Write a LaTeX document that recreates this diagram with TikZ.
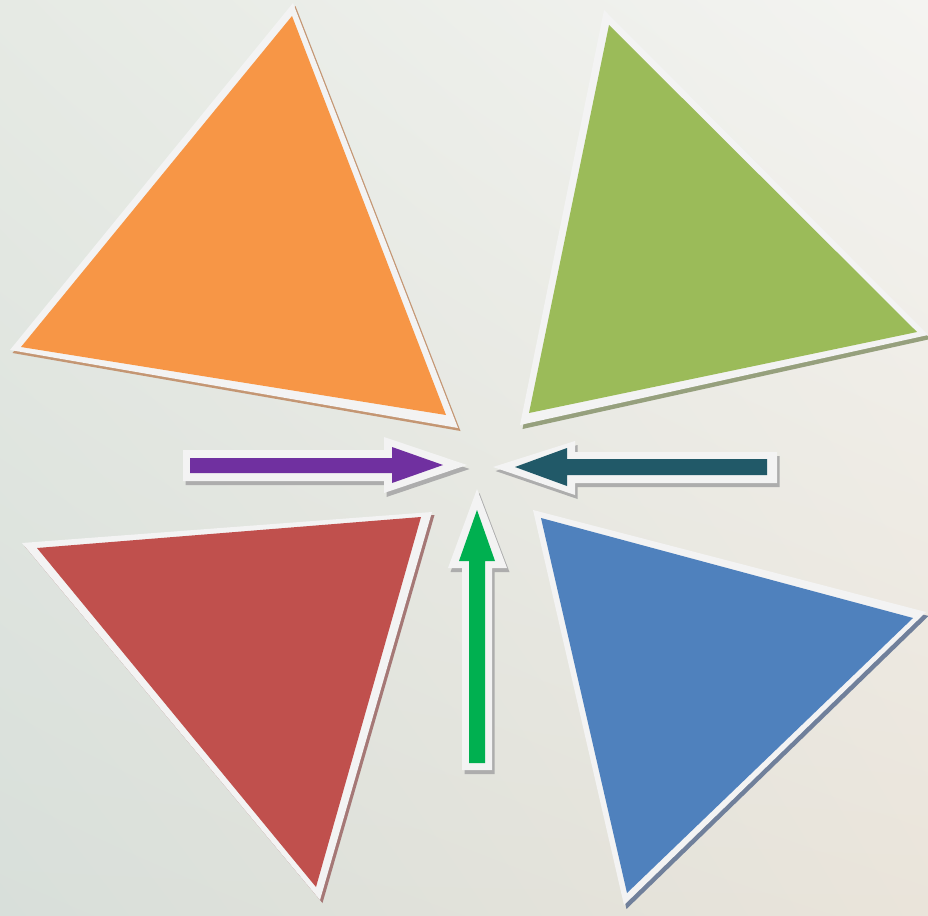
\documentclass[tikz,border=0pt]{standalone}
\usepackage{tikz}
\usetikzlibrary{positioning,shadings}

\definecolor{triorange}{HTML}{F79646}
\definecolor{trigreen}{HTML}{9BBB59}
\definecolor{trired}{HTML}{C0504D}
\definecolor{triblue}{HTML}{4F81BD}
\definecolor{arrpurple}{HTML}{7030A0}
\definecolor{arrteal}{HTML}{215968}
\definecolor{arrgreen}{HTML}{00B050}
\definecolor{rim}{HTML}{F3F3F3}
\definecolor{orangeshadow}{HTML}{C49673}
\definecolor{greenshadow}{HTML}{96A07D}
\definecolor{redshadow}{HTML}{A57876}
\definecolor{blueshadow}{HTML}{70809B}
\definecolor{arrowshadow}{HTML}{ADADAD}
\definecolor{bgul}{HTML}{E6EAE4}
\definecolor{bgur}{HTML}{F4F4F1}
\definecolor{bgll}{HTML}{D8DFDA}
\definecolor{bglr}{HTML}{EAE4DA}

\begin{document}
\begin{tikzpicture}[
  x=1pt, y=-1pt,
  rimfill/.style={fill=rim},
  shade1/.style={fill=#1, shift={(2.5,3)}},
  bgshade/.style={upper left=bgul, upper right=bgur, lower left=bgll, lower right=bglr}
]
% background
\shade[bgshade] (0,0) rectangle (928,915);
\useasboundingbox (0,0) rectangle (928,915);

% orange triangle
\fill[shade1=orangeshadow] (293,3) -- (10,350) -- (458,428) -- cycle;
\fill[rimfill] (293,3) -- (10,350) -- (458,428) -- cycle;
\fill[triorange] (292,16) -- (21,347) -- (446,415) -- cycle;

% green triangle
\fill[shade1=greenshadow, shift={(0,1)}] (604,10) -- (928,335) -- (520,425) -- cycle;
\fill[rimfill] (604,10) -- (928,335) -- (520,425) -- cycle;
\fill[trigreen] (609,25) -- (917,332) -- (529,413) -- cycle;

% red triangle
\fill[shade1=redshadow] (22,543) -- (432,512) -- (320,900) -- cycle;
\fill[rimfill] (22,543) -- (432,512) -- (320,900) -- cycle;
\fill[trired] (37,548) -- (421,517) -- (316,887) -- cycle;

% blue triangle
\fill[shade1=blueshadow, shift={(0,1)}] (533,510) -- (926,612) -- (624,905) -- cycle;
\fill[rimfill] (533,510) -- (926,612) -- (624,905) -- cycle;
\fill[triblue] (541,518) -- (913,618) -- (627,893) -- cycle;

% purple arrow (pointing right)
\fill[shade1=arrowshadow, shift={(0,1)}] (183,450) -- (384,450) -- (384,437) -- (467,465) -- (384,493) -- (384,481) -- (183,481) -- cycle;
\fill[rimfill] (183,450) -- (384,450) -- (384,437) -- (467,465) -- (384,493) -- (384,481) -- (183,481) -- cycle;
\fill[arrpurple] (190,458) -- (392,458) -- (392,447) -- (443,465) -- (392,483) -- (392,473) -- (190,473) -- cycle;

% teal arrow (pointing left)
\fill[shade1=arrowshadow, shift={(0,1)}] (777,452) -- (575,452) -- (575,441) -- (493,467) -- (575,495) -- (575,483) -- (777,483) -- cycle;
\fill[rimfill] (777,452) -- (575,452) -- (575,441) -- (493,467) -- (575,495) -- (575,483) -- (777,483) -- cycle;
\fill[arrteal] (767,459) -- (567,459) -- (567,448) -- (515,467) -- (567,486) -- (567,475) -- (767,475) -- cycle;

% green arrow (pointing up)
\fill[shade1=arrowshadow, shift={(0,1)}] (462,770) -- (462,568) -- (448,568) -- (477,489) -- (507,568) -- (492,568) -- (492,770) -- cycle;
\fill[rimfill] (462,770) -- (462,568) -- (448,568) -- (477,489) -- (507,568) -- (492,568) -- (492,770) -- cycle;
\fill[arrgreen] (469,763) -- (469,561) -- (459,561) -- (477,510) -- (495,561) -- (485,561) -- (485,763) -- cycle;
\end{tikzpicture}
\end{document}
